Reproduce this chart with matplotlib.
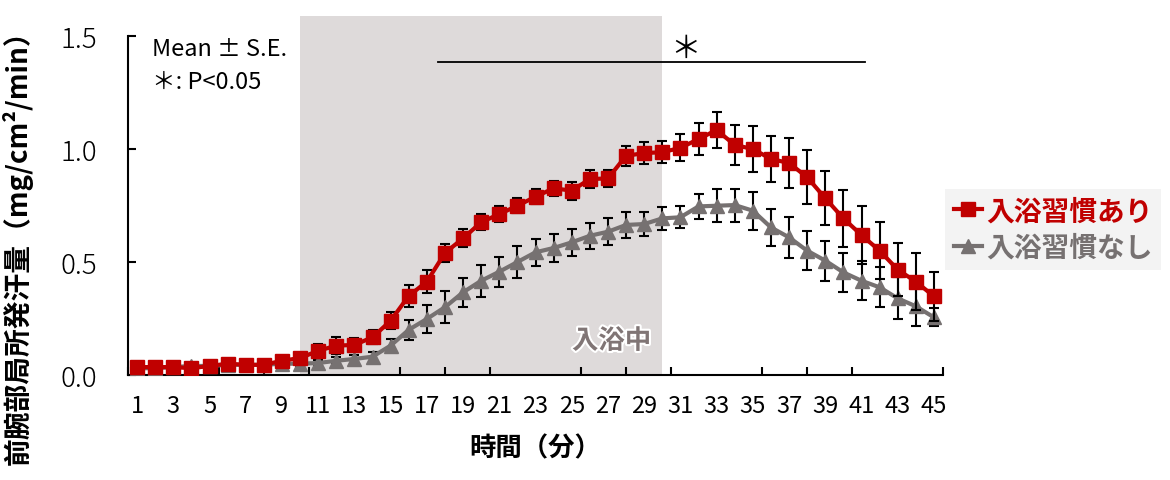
import numpy as np
import matplotlib.pyplot as plt
import matplotlib.patheffects as pe
from matplotlib.patches import Rectangle
from matplotlib.lines import Line2D

plt.rcParams['font.family'] = ['Noto Sans CJK JP', 'DejaVu Sans']

minutes = list(range(1, 46))

with_habit = [0.035, 0.035, 0.035, 0.03, 0.04, 0.05, 0.045, 0.045, 0.063, 0.075,
              0.107, 0.13, 0.133, 0.167, 0.24, 0.35, 0.413, 0.54, 0.605, 0.676,
              0.712, 0.749, 0.789, 0.826, 0.816, 0.867, 0.870, 0.970, 0.982, 0.986,
              1.005, 1.044, 1.084, 1.018, 1.0, 0.956, 0.938, 0.875, 0.782, 0.693,
              0.619, 0.55, 0.466, 0.413, 0.348]
with_habit_se = [0.005, 0.005, 0.005, 0.005, 0.005, 0.008, 0.008, 0.008, 0.01, 0.015,
                 0.03, 0.038, 0.03, 0.03, 0.037, 0.05, 0.05, 0.04, 0.04, 0.036,
                 0.034, 0.033, 0.034, 0.034, 0.04, 0.04, 0.037, 0.045, 0.048, 0.05,
                 0.06, 0.07, 0.08, 0.09, 0.10, 0.10, 0.11, 0.12, 0.12, 0.126,
                 0.13, 0.126, 0.117, 0.127, 0.11]

no_habit = [0.03, 0.03, 0.035, 0.04, 0.04, 0.045, 0.045, 0.045, 0.05, 0.05,
            0.053, 0.063, 0.071, 0.081, 0.13, 0.2, 0.248, 0.30, 0.366, 0.417,
            0.457, 0.50, 0.543, 0.562, 0.587, 0.616, 0.634, 0.664, 0.668, 0.693,
            0.698, 0.746, 0.749, 0.752, 0.727, 0.653, 0.609, 0.55, 0.506, 0.454,
            0.417, 0.388, 0.339, 0.304, 0.255]
no_habit_se = [0.005, 0.005, 0.005, 0.005, 0.005, 0.005, 0.005, 0.005, 0.008, 0.01,
               0.012, 0.015, 0.018, 0.02, 0.03, 0.045, 0.06, 0.07, 0.063, 0.07,
               0.066, 0.072, 0.06, 0.062, 0.06, 0.057, 0.06, 0.056, 0.055, 0.05,
               0.048, 0.055, 0.074, 0.073, 0.085, 0.082, 0.09, 0.086, 0.088, 0.086,
               0.086, 0.088, 0.093, 0.088, 0.04]

red = '#C00000'
grey = '#767171'

fig = plt.figure(figsize=(11.7, 4.81), dpi=100)
ax = fig.add_axes([0.1094, 0.2183, 0.6966, 0.7047])

# bathing period
ax.add_patch(Rectangle((10, 0), 20, 1.59, facecolor='#DEDADA', edgecolor='none',
                       clip_on=False, zorder=0))
ax.text(27.2, 0.15, '入浴中', color='#807575', fontsize=19, fontweight='bold',
        ha='center', va='center', zorder=2,
        path_effects=[pe.withStroke(linewidth=3, foreground='white')])

ax.errorbar(minutes, no_habit, yerr=no_habit_se, color=grey, lw=3, marker='^',
            markersize=10, ecolor='black', elinewidth=1.5, capsize=3.5, capthick=1.5,
            zorder=3)
ax.errorbar(minutes, with_habit, yerr=with_habit_se, color=red, lw=3, marker='s',
            markersize=9.5, ecolor='black', elinewidth=1.5, capsize=3.5, capthick=1.5,
            zorder=4)

# significance
ax.plot([17.6, 41.2], [1.385, 1.385], color='black', lw=1.3, zorder=5)
ax.text(31.3, 1.445, '＊', fontsize=22, ha='center', va='center')

ax.text(1.8, 1.445, 'Mean ± S.E.', fontsize=17, va='center')
ax.text(1.8, 1.30, '＊: P<0.05', fontsize=17, va='center')

ax.set_xlim(0.5, 45.5)
ax.set_ylim(0, 1.5)
ax.set_yticks([0, 0.5, 1.0, 1.5])
ax.set_yticklabels(['0.0', '0.5', '1.0', '1.5'], fontweight='light')
ax.set_xticks(minutes[::2])
ax.set_xticklabels([str(m) for m in minutes[::2]])
ax.set_xticks(np.arange(0.5, 45.6, 2.5), minor=True)
ax.tick_params(axis='x', which='major', length=0, labelsize=17, pad=14)
ax.tick_params(axis='x', which='minor', direction='in', length=6, width=1.5)
ax.tick_params(axis='y', direction='in', length=6, width=1.5, labelsize=20, pad=22)
for side in ['top', 'right']:
    ax.spines[side].set_visible(False)
for side in ['left', 'bottom']:
    ax.spines[side].set_linewidth(1.5)

ax.set_xlabel('時間（分）', fontsize=19, fontweight='bold', labelpad=12)
ax.set_ylabel('前腕部局所発汗量（mg/cm²/min）', fontsize=20, fontweight='bold')
ax.yaxis.set_label_coords(-0.117, 0.4)

handles = [Line2D([], [], color=red, lw=3, marker='s', markersize=9.5),
           Line2D([], [], color=grey, lw=3, marker='^', markersize=10)]
labels = ['入浴習慣あり', '入浴習慣なし']
leg = ax.legend(handles, labels, loc='center left',
                bbox_to_anchor=(1.003, 0.43), frameon=True, borderaxespad=0,
                handlelength=1.0, handletextpad=0.15, borderpad=0.3,
                labelspacing=0.3, prop={'weight': 'bold', 'size': 20})
leg.get_frame().set_facecolor('#F0F0F0')
leg.get_frame().set_edgecolor('none')
leg.get_frame().set_boxstyle('square', pad=0)
for text, col in zip(leg.get_texts(), [red, grey]):
    text.set_color(col)

fig.savefig('out.png', dpi=100)
